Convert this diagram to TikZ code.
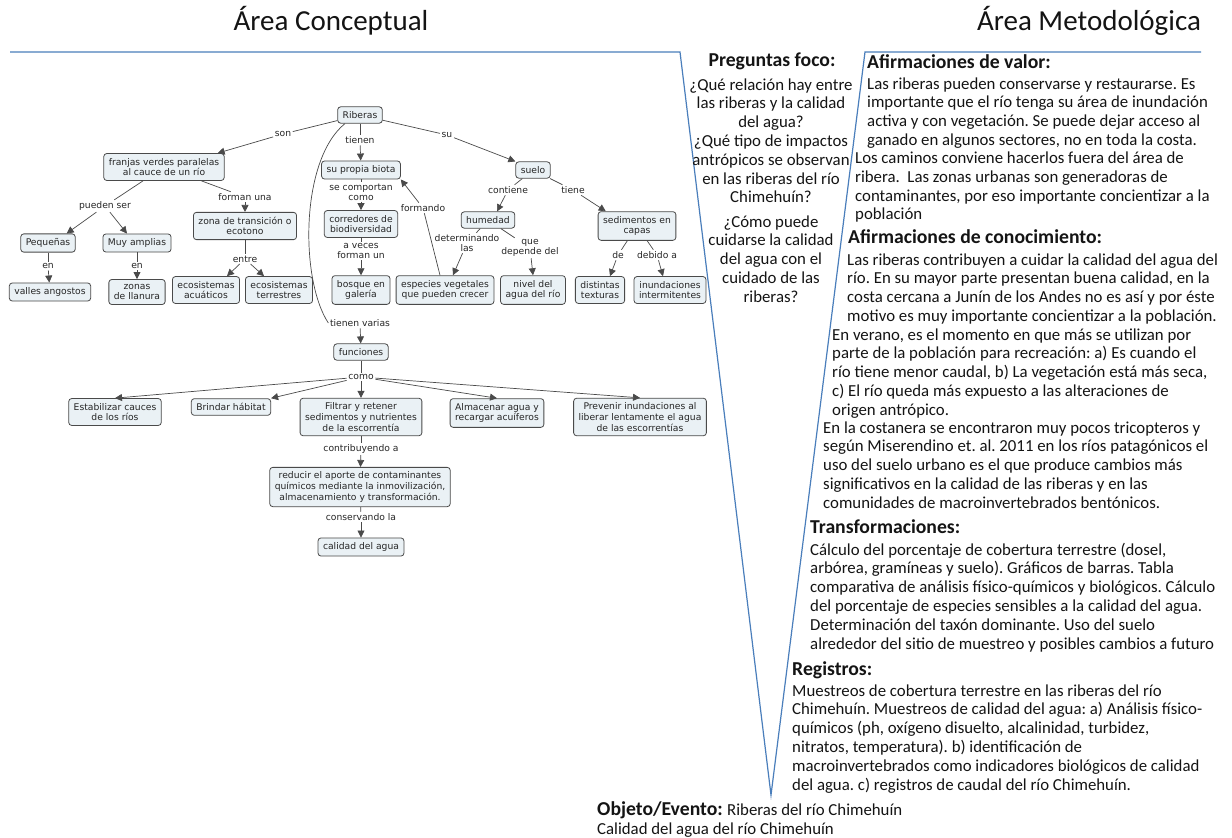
\documentclass[tikz,border=0pt]{standalone}
\usepackage{fontspec}
\setmainfont{Carlito}
\newfontfamily\mapfont{DejaVu Sans}
\usetikzlibrary{arrows.meta}
\frenchspacing

\definecolor{vline}{HTML}{4A7EBB}
\definecolor{cfill}{HTML}{EAF1F5}
\definecolor{cedge}{HTML}{4A4A4A}
\definecolor{ctext}{HTML}{262626}
\definecolor{btext}{HTML}{141414}

\begin{document}
\begin{tikzpicture}[x=1pt,y=-1pt,
  concept/.style={draw=cedge, fill=cfill, rounded corners=3pt, line width=0.8pt,
    align=center, font=\mapfont\fontsize{9.2}{10.6}\selectfont,
    inner xsep=5pt, inner ysep=4.6pt, text=ctext},
  link/.style={align=center, font=\mapfont\fontsize{9.2}{10}\selectfont,
    inner sep=1.5pt, text=ctext},
  conn/.style={draw=cedge, line width=0.7pt},
  arr/.style={conn, -{Triangle[length=7pt,width=7pt]}},
  % multi-line blocks are placed by the baseline of their last line
  body/.style={anchor=base west, align=left, inner sep=0pt, text=btext,
    font=\fontsize{16.8}{18.8}\selectfont},
  qbody/.style={anchor=base, align=center, inner sep=0pt, text=btext,
    font=\fontsize{16.8}{18.8}\selectfont},
  head/.style={anchor=base west, inner sep=0pt, text=btext,
    font=\bfseries\fontsize{19.7}{22}\selectfont},
  title/.style={anchor=base, inner sep=0pt, text=btext,
    font=\fontsize{29}{32}\selectfont},
]
\useasboundingbox (0,0) rectangle (1232,838);
\fill[white] (0,0) rectangle (1232,838);

% ---------- headings and V-shaped frame ----------
\node[title] (tcon) at (331,30) {Área Conceptual};
\node[title] (tmet) at (1089,30) {Área Metodológica};

\coordinate (vtl) at (10,52);
\coordinate (vl) at (680,52);
\coordinate (vb) at (771,795);
\coordinate (vr) at (865,52);
\coordinate (vtr) at (1201,52);
\draw[vline, line width=1.2pt] (vtl) -- (vl) -- (vb) -- (vr) -- (vtr);

% ---------- concept map: concepts ----------
\node[concept] (rib) at (360,115) {Riberas};
\node[concept] (franjas) at (164,167) {franjas verdes paralelas\\al cauce de un río};
\node[concept] (biota) at (361,170) {su propia biota};
\node[concept] (suelo) at (533,170) {suelo};
\node[concept] (peq) at (48,243) {Pequeñas};
\node[concept] (amp) at (137,243) {Muy amplias};
\node[concept] (zona) at (245,226) {zona de transición o\\ecotono};
\node[concept] (corr) at (361,224) {corredores de\\biodiversidad};
\node[concept] (hum) at (488,220) {humedad};
\node[concept] (sed) at (637,226) {sedimentos en\\capas};
\node[concept] (valles) at (50,292) {valles angostos};
\node[concept] (llan) at (137,292) {zonas\\de llanura};
\node[concept] (acu) at (206,290) {ecosistemas\\acuáticos};
\node[concept] (ter) at (279,290) {ecosistemas\\terrestres};
\node[concept] (bosq) at (361,290) {bosque en\\galería};
\node[concept] (esp) at (445,290) {especies vegetales\\que pueden crecer};
\node[concept] (niv) at (533,290) {nivel del\\agua del río};
\node[concept] (tex) at (600,290) {distintas\\texturas};
\node[concept] (inu) at (670,290) {inundaciones\\intermitentes};
\node[concept] (fun) at (361,352) {funciones};
\node[concept] (est) at (115,412) {Estabilizar cauces\\de los ríos};
\node[concept] (bri) at (231,407) {Brindar hábitat};
\node[concept] (fil) at (361,417) {Filtrar y retener\\sedimentos y nutrientes\\de la escorrentía};
\node[concept] (alm) at (497,413) {Almacenar agua y\\recargar acuíferos};
\node[concept] (pre) at (640,417) {Prevenir inundaciones al\\liberar lentamente el agua\\de las escorrentías};
\node[concept] (red) at (360,487) {reducir el aporte de contaminantes\\químicos mediante la inmovilización,\\almacenamiento y transformación.};
\node[concept] (cal) at (361,547) {calidad del agua};

% ---------- concept map: linking phrases ----------
\node[link] (lson) at (283,134) {son};
\node[link] (ltienen) at (360,140) {tienen};
\node[link] (lsu) at (447,135) {su};
\node[link] (lpueden) at (105,206) {pueden ser};
\node[link] (lforman) at (245,197) {forman una};
\node[link] (lsecomp) at (361,192) {se comportan\\como};
\node[link] (lformando) at (423,208) {formando};
\node[link] (lcontiene) at (508,190) {contiene};
\node[link] (ltiene) at (573,190) {tiene};
\node[link] (len1) at (48,266) {en};
\node[link] (len2) at (137,266) {en};
\node[link] (lentre) at (245,259) {entre};
\node[link] (laveces) at (361,251) {a veces\\forman un};
\node[link] (ldet) at (467,243) {determinando\\las};
\node[link] (lque) at (530,248) {que\\depende del};
\node[link] (lde) at (618,255) {de};
\node[link] (ldebido) at (657,255) {debido a};
\node[link] (ltvar) at (360,323) {tienen varias};
\node[link] (lcomo) at (361,377) {como};
\node[link] (lcontrib) at (361,449) {contribuyendo a};
\node[link] (lcons) at (361,517) {conservando la};

% ---------- concept map: connectors ----------
\draw[conn] (rib) -- (lson);
\draw[arr] (lson) -- ([xshift=-7pt]franjas.north east);
\draw[conn] (rib) -- (ltienen);
\draw[arr] (ltienen) -- (biota);
\draw[conn] (rib) -- (lsu);
\draw[arr] (lsu) -- (suelo.north west);

\draw[conn] (franjas) -- (lpueden);
\draw[arr] (lpueden) -- ([xshift=-9pt]peq.north east);
\draw[arr] (lpueden) -- ([xshift=-10pt]amp.north);
\draw[conn] (franjas) -- (lforman);
\draw[arr] (lforman) -- (zona.north);
\draw[conn] (peq) -- (len1);
\draw[arr] (len1) -- (valles);
\draw[conn] (amp) -- (len2);
\draw[arr] (len2) -- (llan);
\draw[conn] (zona) -- (lentre);
\draw[arr] (lentre) -- ([xshift=-13pt]acu.north east);
\draw[arr] (lentre) -- ([xshift=19pt]ter.north west);

\draw[conn] (biota) -- (lsecomp);
\draw[arr] (lsecomp) -- (corr);
\draw[conn] (corr) -- (laveces);
\draw[arr] (laveces) -- (bosq);
\draw[conn] ([xshift=-5pt]esp.north) -- (lformando);
\draw[arr] (lformando) -- (biota.south east);

\draw[conn] (suelo) -- (lcontiene);
\draw[arr] (lcontiene) -- ([xshift=9pt]hum.north);
\draw[conn] (suelo) -- (ltiene);
\draw[arr] (ltiene) -- ([xshift=8pt]sed.north west);
\draw[conn] (hum) -- (ldet);
\draw[arr] (ldet) -- ([xshift=8pt]esp.north);
\draw[conn] (hum) -- (lque);
\draw[arr] (lque) -- (niv.north);
\draw[conn] (sed) -- (lde);
\draw[arr] (lde) -- ([xshift=10pt]tex.north);
\draw[conn] (sed) -- (ldebido);
\draw[arr] (ldebido) -- ([xshift=-7pt]inu.north);

\draw[conn] ([xshift=-15pt]rib.south) .. controls (300,160) and (300,280) .. (ltvar.west);
\draw[arr] (ltvar) -- (fun);
\draw[conn] (fun) -- (lcomo);
\draw[arr] (lcomo) -- (est.north);
\draw[arr] (lcomo) -- (bri.north east);
\draw[arr] (lcomo) -- (fil);
\draw[arr] (lcomo) -- (alm.north);
\draw[arr] (lcomo) -- (pre.north);
\draw[conn] (fil) -- (lcontrib);
\draw[arr] (lcontrib) -- (red);
\draw[conn] (red) -- (lcons);
\draw[arr] (lcons) -- (cal);

% ---------- focus questions ----------
\node[head, anchor=base] (hpreg) at (772,66) {Preguntas foco:};
\node[qbody] (q1) at (771,202.8) {¿Qué relación hay entre\\las riberas y la calidad\\del agua?\\¿Qué tipo de impactos\\antrópicos se observan\\en las riberas del río\\Chimehuín?};
\node[qbody] (q2) at (771,302.2) {¿Cómo puede\\cuidarse la calidad\\del agua con el\\cuidado de las\\riberas?};

% ---------- methodological side ----------
\node[head] (hval) at (867,68) {Afirmaciones de valor:};
\node[body] (val1) at (867,145.4) {Las riberas pueden conservarse y restaurarse. Es\\importante que el río tenga su área de inundación\\activa y con vegetación. Se puede dejar acceso al\\ganado en algunos sectores, no en toda la costa.};
\node[body] (val2) at (855,219.8) {Los caminos conviene hacerlos fuera del área de\\ribera.\ \ Las zonas urbanas son generadoras de\\contaminantes, por eso importante concientizar a la\\población};

\node[head] (hcon) at (848,243) {Afirmaciones de conocimiento:};
\node[body] (con1) at (847,321.4) {Las riberas contribuyen a cuidar la calidad del agua del\\río. En su mayor parte presentan buena calidad, en la\\costa cercana a Junín de los Andes no es así y por éste\\motivo es muy importante concientizar a la población.};
\node[body] (con2) at (832,415.2) {En verano, es el momento en que más se utilizan por\\parte de la población para recreación: a) Es cuando el\\río tiene menor caudal, b) La vegetación está más seca,\\c) El río queda más expuesto a las alteraciones de\\origen antrópico.};
\node[body] (con3) at (823,508.2) {En la costanera se encontraron muy pocos tricopteros y\\según Miserendino et. al. 2011 en los ríos patagónicos el\\uso del suelo urbano es el que produce cambios más\\significativos en la calidad de las riberas y en las\\comunidades de macroinvertebrados bentónicos.};

\node[head] (htra) at (810,533) {Transformaciones:};
\node[body] (tra) at (810,649) {Cálculo del porcentaje de cobertura terrestre (dosel,\\arbórea, gramíneas y suelo). Gráficos de barras. Tabla\\comparativa de análisis físico-químicos y biológicos. Cálculo\\del porcentaje de especies sensibles a la calidad del agua.\\Determinación del taxón dominante. Uso del suelo\\alrededor del sitio de muestreo y posibles cambios a futuro};

\node[head] (hreg) at (792,675) {Registros:};
\node[body] (reg) at (792,790) {Muestreos de cobertura terrestre en las riberas del río\\Chimehuín. Muestreos de calidad del agua: a) Análisis físico-\\químicos (ph, oxígeno disuelto, alcalinidad, turbidez,\\nitratos, temperatura). b) identificación de\\macroinvertebrados como indicadores biológicos de calidad\\del agua. c) registros de caudal del río Chimehuín.};

\node[head] (hobj) at (597,815) {Objeto/Evento:};
\node[body] (obj1) at ([xshift=4pt]hobj.base east) {Riberas del río Chimehuín};
\node[body] (obj2) at (597,834) {Calidad del agua del río Chimehuín};
\end{tikzpicture}
\end{document}
